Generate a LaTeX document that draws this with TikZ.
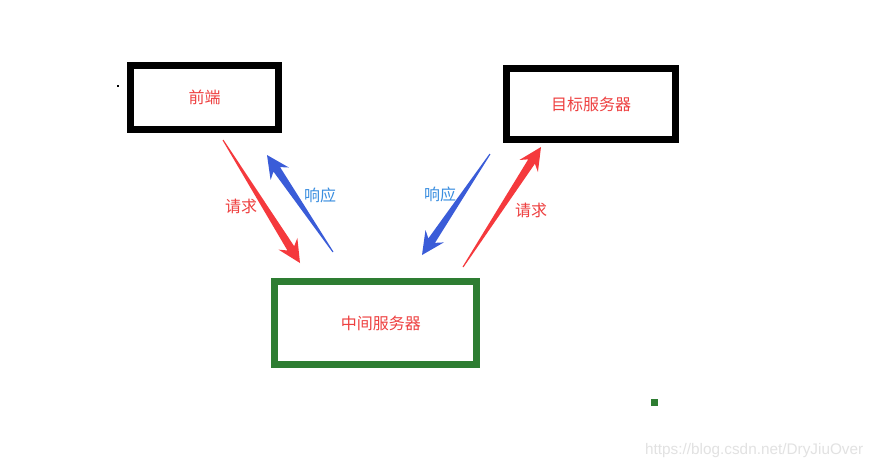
\documentclass[tikz,border=0pt]{standalone}
\usepackage{fontspec}
\newfontfamily\cjk{Noto Sans CJK SC}
\newfontfamily\wmfont{Liberation Sans}
\usetikzlibrary{calc}
\definecolor{boxred}{HTML}{EE4040}
\definecolor{arrred}{HTML}{F5393D}
\definecolor{arrblue}{HTML}{3A5CD8}
\definecolor{lblblue}{HTML}{3A8EE0}
\definecolor{srvgreen}{HTML}{2E7D32}
\definecolor{wmgray}{HTML}{E2E2E2}

% tapered arrow: #1 colour, #2 tail, #3 tip
\newcommand{\fatarrow}[3]{%
  \fill[#1] (#2)
    -- ($(#2)!0.4pt!90:(#3)$)
    -- ($(#3)!13pt!(#2)!3pt!-90:(#2)$)
    -- ($(#3)!17pt!(#2)!8.3pt!-90:(#2)$)
    -- (#3)
    -- ($(#3)!17pt!(#2)!8.3pt!90:(#2)$)
    -- ($(#3)!13pt!(#2)!3pt!90:(#2)$)
    -- ($(#2)!0.4pt!-90:(#3)$) -- cycle;}

\begin{document}
\begin{tikzpicture}[
    x=0.75pt, y=-0.75pt,
    font=\cjk\fontsize{12}{14}\selectfont,
    blackbox/.style={draw=black, line width=5.25pt, fill=white,
                     text=boxred, align=center, inner sep=0pt},
    greenbox/.style={draw=srvgreen, line width=5.25pt, fill=white,
                     text=boxred, align=center, inner sep=0pt},
    redlbl/.style={text=boxred, inner sep=1pt},
    bluelbl/.style={text=lblblue, inner sep=1pt},
  ]
  \useasboundingbox[fill=white] (0,0) rectangle (877,469);

  % servers and client
  \node[blackbox, minimum width=111pt, minimum height=48pt]
    (front) at (204.5,97.5) {前端};
  \node[blackbox, minimum width=126.75pt, minimum height=53.25pt]
    (target) at (591,104) {目标服务器};
  \node[greenbox, minimum width=151.5pt, minimum height=62.25pt]
    (proxy) at (375.5,323) {\hspace*{8pt}中间服务器};

  % arrow ends
  \coordinate (reqA) at (223,140);
  \coordinate (reqB) at (300,263);
  \coordinate (resA) at (333,252);
  \coordinate (resB) at (267,155);
  \coordinate (resC) at (490,154);
  \coordinate (resD) at (422,255);
  \coordinate (reqC) at (463,267);
  \coordinate (reqD) at (541,147);

  \fatarrow{arrred}{reqA}{reqB}
  \fatarrow{arrblue}{resA}{resB}
  \fatarrow{arrblue}{resC}{resD}
  \fatarrow{arrred}{reqC}{reqD}

  \node[redlbl]  (lreq1) at (241,206) {请求};
  \node[bluelbl] (lres1) at (320,195) {响应};
  \node[bluelbl] (lres2) at (440,194) {响应};
  \node[redlbl]  (lreq2) at (531,210) {请求};

  % stray marks
  \fill[black] (117,85) rectangle (119,87);
  \fill[srvgreen] (651,399) rectangle (658,406);

  \node[text=wmgray, font=\wmfont\fontsize{11.5}{13}\selectfont, anchor=east]
    (wm) at (868,451) {https://blog.csdn.net/DryJiuOver};
\end{tikzpicture}
\end{document}
